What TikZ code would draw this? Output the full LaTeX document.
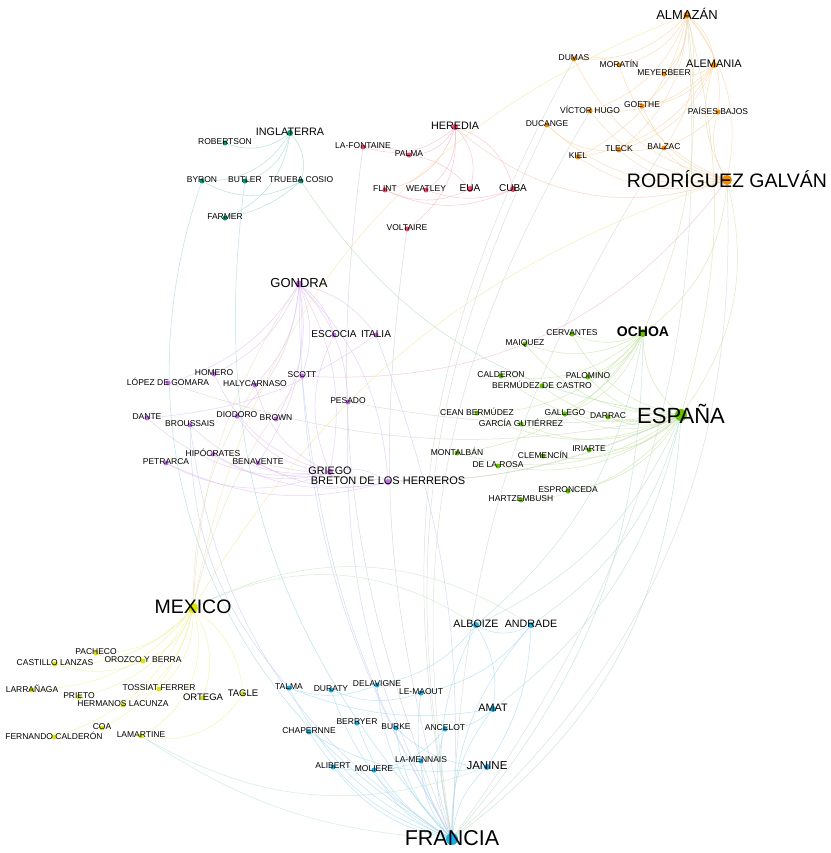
\documentclass[tikz,border=0pt]{standalone}
\usepackage{fontspec}
\setmainfont{Liberation Sans}
\pgfdeclarelayer{bgl}
\pgfdeclarelayer{edges}
\pgfdeclarelayer{dots}
\pgfsetlayers{bgl,edges,dots,main}
\definecolor{cteal}{RGB}{0,150,118}
\definecolor{cpink}{RGB}{236,72,108}
\definecolor{corange}{RGB}{242,140,0}
\definecolor{cpurple}{RGB}{196,112,232}
\definecolor{cgreen}{RGB}{102,192,0}
\definecolor{cyellow}{RGB}{218,228,0}
\definecolor{cblue}{RGB}{22,172,228}
\definecolor{eteal}{RGB}{150,215,205}
\definecolor{epink}{RGB}{248,180,195}
\definecolor{eorange}{RGB}{250,210,160}
\definecolor{epurple}{RGB}{225,190,245}
\definecolor{egreen}{RGB}{195,228,160}
\definecolor{eyellow}{RGB}{238,242,150}
\definecolor{eblue}{RGB}{160,220,242}
\newcommand\gn[7]{%
  \coordinate (#1) at (#2,#3);
  \begin{pgfonlayer}{dots}\fill[#5] (#1) circle[radius=#4];\end{pgfonlayer}
  \node[lbl, font=\fontsize{#6}{#6}\selectfont] (#1-t) at (#1) {#7};}
\newcommand\ee[4]{\draw[ed,draw=#3] (#1) to[bend left=#4] (#2);}
\begin{document}
\begin{tikzpicture}[x=1pt,y=-1pt,
  ed/.style={line width=0.5pt, opacity=0.7},
  lbl/.style={inner sep=0pt, text=black, text depth=0pt, yshift=1pt}]
\useasboundingbox (0,0) rectangle (830,853);
\begin{pgfonlayer}{bgl}\fill[white] (0,0) rectangle (830,853);\end{pgfonlayer}
% ---- teal
\gn{INGLATERRA}{290}{133}{3}{cteal}{10.8}{INGLATERRA}
\gn{ROBERTSON}{225}{143}{2.5}{cteal}{8.5}{ROBERTSON}
\gn{BYRON}{202}{181}{2.5}{cteal}{8.5}{BYRON}
\gn{BUTLER}{245}{181}{2.5}{cteal}{8.5}{BUTLER}
\gn{TRUEBA}{301}{181}{2.5}{cteal}{8.5}{TRUEBA COSIO}
\gn{FARMER}{225}{218}{2.5}{cteal}{8.5}{FARMER}
% ---- pink
\gn{HEREDIA}{455}{127}{3}{cpink}{10.8}{HEREDIA}
\gn{LAFONTAINE}{363}{147}{2.5}{cpink}{8.5}{LA-FONTAINE}
\gn{PALMA}{409}{155}{2.5}{cpink}{8.5}{PALMA}
\gn{FLINT}{385}{190}{2.5}{cpink}{8.5}{FLINT}
\gn{WEATLEY}{426}{190}{2.5}{cpink}{8.5}{WEATLEY}
\gn{EUA}{470}{189}{3}{cpink}{10}{EUA}
\gn{CUBA}{513}{189}{3}{cpink}{10}{CUBA}
\gn{VOLTAIRE}{407}{229}{2.5}{cpink}{8.5}{VOLTAIRE}
% ---- orange
\gn{ALMAZAN}{687}{15}{3.5}{corange}{13}{ALMAZÁN}
\gn{DUMAS}{574}{59}{2.5}{corange}{8.5}{DUMAS}
\gn{MORATIN}{619}{65}{2.5}{corange}{8.5}{MORATÍN}
\gn{MEYERBEER}{664}{74}{2.5}{corange}{8.5}{MEYERBEER}
\gn{ALEMANIA}{714}{65}{3}{corange}{11}{ALEMANIA}
\gn{VHUGO}{590}{111}{2.5}{corange}{8.5}{VÍCTOR HUGO}
\gn{GOETHE}{642}{106}{2.5}{corange}{8.5}{GOETHE}
\gn{PAISES}{718}{112}{2.5}{corange}{8.5}{PAÍSES BAJOS}
\gn{DUCANGE}{547}{125}{2.5}{corange}{8.5}{DUCANGE}
\gn{KIEL}{578}{157}{2.5}{corange}{8.5}{KIEL}
\gn{TLECK}{619}{150}{2.5}{corange}{8.5}{TLECK}
\gn{BALZAC}{664}{148}{2.5}{corange}{8.5}{BALZAC}
\gn{RODRIGUEZ}{727}{180}{5}{corange}{19.5}{RODRÍGUEZ GALVÁN}
% ---- purple
\gn{GONDRA}{299}{284}{3.5}{cpurple}{13}{GONDRA}
\gn{ESCOCIA}{334}{335}{2.5}{cpurple}{10}{ESCOCIA}
\gn{ITALIA}{376}{335}{2.5}{cpurple}{10}{ITALIA}
\gn{SCOTT}{302}{376}{2.5}{cpurple}{8.5}{SCOTT}
\gn{PESADO}{348}{402}{2.5}{cpurple}{8.5}{PESADO}
\gn{BROWN}{276}{419}{2.5}{cpurple}{8.5}{BROWN}
\gn{GRIEGO}{330}{472}{3}{cpurple}{10.8}{GRIEGO}
\gn{BRETON}{388}{482}{3}{cpurple}{11}{BRETON DE LOS HERREROS}
\gn{HOMERO}{214}{374}{2.5}{cpurple}{8.5}{HOMERO}
\gn{LOPEZ}{168}{383}{2.5}{cpurple}{8.5}{LÓPEZ DE GOMARA}
\gn{HALYCARNASO}{255}{385}{2.5}{cpurple}{8.5}{HALYCARNASO}
\gn{DANTE}{147}{418}{2.5}{cpurple}{8.5}{DANTE}
\gn{BROUSSAIS}{190}{425}{2.5}{cpurple}{8.5}{BROUSSAIS}
\gn{DIODORO}{237}{416}{2.5}{cpurple}{8.5}{DIODORO}
\gn{HIPOCRATES}{213}{454}{2.5}{cpurple}{8.5}{HIPÓCRATES}
\gn{PETRARCA}{166}{463}{2.5}{cpurple}{8.5}{PETRARCA}
\gn{BENAVENTE}{258}{463}{2.5}{cpurple}{8.5}{BENAVENTE}
% ---- green
\gn{MAIQUEZ}{525}{344}{2.5}{cgreen}{8.5}{MAIQUEZ}
\gn{CERVANTES}{572}{334}{2.5}{cgreen}{8.5}{CERVANTES}
\gn{OCHOA}{643}{333}{4}{cgreen}{14}{\bfseries OCHOA}
\gn{CALDERON}{501}{376}{2.5}{cgreen}{8.5}{CALDERON}
\gn{BERMUDEZ}{542}{386}{2.5}{cgreen}{8.5}{BERMÚDEZ DE CASTRO}
\gn{PALOMINO}{588}{377}{2.5}{cgreen}{8.5}{PALOMINO}
\gn{CEAN}{477}{413}{2.5}{cgreen}{8.5}{CEAN BERMÚDEZ}
\gn{GARCIA}{521}{424}{2.5}{cgreen}{8.5}{GARCÍA GUTIÉRREZ}
\gn{GALLEGO}{565}{414}{2.5}{cgreen}{8.5}{GALLEGO}
\gn{DARRAC}{608}{417}{2.5}{cgreen}{8.5}{DARRAC}
\gn{ESPANA}{681}{415}{6}{cgreen}{22}{ESPAÑA}
\gn{MONTALBAN}{457}{453}{2.5}{cgreen}{8.5}{MONTALBÁN}
\gn{DELAROSA}{498}{466}{2.5}{cgreen}{8.5}{DE LA ROSA}
\gn{CLEMENCIN}{543}{456}{2.5}{cgreen}{8.5}{CLEMENCÍN}
\gn{IRIARTE}{589}{450}{2.5}{cgreen}{8.5}{IRIARTE}
\gn{ESPRONCEDA}{568}{491}{2.5}{cgreen}{8.5}{ESPRONCEDA}
\gn{HARTZEMBUSH}{521}{500}{2.5}{cgreen}{8.5}{HARTZEMBUSH}
% ---- yellow
\gn{MEXICO}{193}{608}{5}{cyellow}{19.5}{MEXICO}
\gn{PACHECO}{96}{653}{2.5}{cyellow}{8.5}{PACHECO}
\gn{CASTILLO}{55}{664}{2.5}{cyellow}{8.5}{CASTILLO LANZAS}
\gn{OROZCO}{143}{661}{2.5}{cyellow}{8.5}{OROZCO Y BERRA}
\gn{LARRANAGA}{32}{690}{2.5}{cyellow}{8.5}{LARRAÑAGA}
\gn{PRIETO}{79}{697}{2.5}{cyellow}{8.5}{PRIETO}
\gn{TOSSIAT}{159}{689}{2.5}{cyellow}{8.5}{TOSSIAT FERRER}
\gn{LACUNZA}{123}{705}{2.5}{cyellow}{8.5}{HERMANOS LACUNZA}
\gn{ORTEGA}{203}{698}{2.5}{cyellow}{9.5}{ORTEGA}
\gn{TAGLE}{243}{694}{2.5}{cyellow}{9.5}{TAGLE}
\gn{COA}{102}{728}{2.5}{cyellow}{8.5}{COA}
\gn{FCALDERON}{54}{737}{2.5}{cyellow}{8.5}{FERNANDO CALDERÓN}
\gn{LAMARTINE}{141}{736}{2.5}{cyellow}{8.5}{LAMARTINE}
% ---- blue
\gn{ALBOIZE}{476}{625}{3}{cblue}{10.7}{ALBOIZE}
\gn{ANDRADE}{531}{625}{3}{cblue}{10.7}{ANDRADE}
\gn{TALMA}{289}{688}{2.5}{cblue}{8.5}{TALMA}
\gn{DURATY}{331}{690}{2.5}{cblue}{8.5}{DURATY}
\gn{DELAVIGNE}{377}{685}{2.5}{cblue}{8.5}{DELAVIGNE}
\gn{LEMAOUT}{421}{693}{2.5}{cblue}{8.5}{LE-MAOUT}
\gn{AMAT}{493}{709}{3}{cblue}{10.8}{AMAT}
\gn{BERRYER}{357}{723}{2.5}{cblue}{8.5}{BERRYER}
\gn{BURKE}{396}{728}{2.5}{cblue}{8.5}{BURKE}
\gn{ANCELOT}{445}{729}{2.5}{cblue}{8.5}{ANCELOT}
\gn{CHAPERNNE}{309}{732}{2.5}{cblue}{8.5}{CHAPERNNE}
\gn{ALIBERT}{333}{767}{2.5}{cblue}{8.5}{ALIBERT}
\gn{MOLIERE}{374}{770}{2.5}{cblue}{8.5}{MOLIERE}
\gn{LAMENNAIS}{421}{761}{2.5}{cblue}{8.5}{LA-MENNAIS}
\gn{JANINE}{487}{767}{3}{cblue}{11.5}{JANINE}
\gn{FRANCIA}{452}{839}{6}{cblue}{21.5}{FRANCIA}
% ================= edges
\begin{pgfonlayer}{edges}
% teal
\foreach \b in {ROBERTSON,BYRON,BUTLER,TRUEBA,FARMER} {\ee{INGLATERRA}{\b}{eteal}{30}}
\ee{TRUEBA}{BYRON}{eteal}{30}
\ee{TRUEBA}{FARMER}{eteal}{15}
% pink
\foreach \b in {LAFONTAINE,PALMA,FLINT,WEATLEY,EUA,CUBA,VOLTAIRE} {\ee{HEREDIA}{\b}{epink}{30}}
\ee{LAFONTAINE}{PALMA}{epink}{15}
\ee{PALMA}{EUA}{epink}{20}
\ee{EUA}{FLINT}{epink}{25}
\ee{CUBA}{FLINT}{epink}{25}
\ee{CUBA}{WEATLEY}{epink}{20}
% orange
\foreach \b in {DUMAS,MORATIN,MEYERBEER,ALEMANIA,VHUGO,GOETHE,TLECK,BALZAC,PAISES,KIEL,RODRIGUEZ} {\ee{ALMAZAN}{\b}{eorange}{25}}
\foreach \b in {DUMAS,MORATIN,VHUGO,GOETHE,DUCANGE,KIEL,TLECK,BALZAC,PAISES,ALEMANIA} {\ee{RODRIGUEZ}{\b}{eorange}{25}}
\foreach \b in {GOETHE,MEYERBEER,TLECK,KIEL,VHUGO} {\ee{ALEMANIA}{\b}{eorange}{25}}
\ee{DUMAS}{MORATIN}{eorange}{20}
\ee{TLECK}{DUCANGE}{eorange}{25}
\ee{PAISES}{TLECK}{eorange}{25}
% green
\foreach \b in {MAIQUEZ,CERVANTES,CALDERON,BERMUDEZ,PALOMINO,CEAN,GARCIA,GALLEGO,DARRAC,MONTALBAN,DELAROSA,CLEMENCIN,IRIARTE,ESPRONCEDA,HARTZEMBUSH,OCHOA} {\ee{ESPANA}{\b}{egreen}{25}}
\foreach \b in {MAIQUEZ,CERVANTES,CALDERON,BERMUDEZ,PALOMINO,GALLEGO,GARCIA,CEAN,MONTALBAN} {\ee{OCHOA}{\b}{egreen}{25}}
% purple
\foreach \b in {ESCOCIA,ITALIA,SCOTT,PESADO,BROWN,HALYCARNASO,HOMERO,DIODORO,BENAVENTE,GRIEGO,BRETON,LOPEZ} {\ee{GONDRA}{\b}{epurple}{20}}
\foreach \b in {HOMERO,DIODORO,HIPOCRATES,HALYCARNASO,PETRARCA,DANTE,BROUSSAIS,BENAVENTE,BRETON,ESCOCIA} {\ee{GRIEGO}{\b}{epurple}{25}}
\foreach \b in {PETRARCA,HIPOCRATES,BENAVENTE} {\ee{BRETON}{\b}{epurple}{20}}
\ee{ITALIA}{DANTE}{epurple}{15}
% yellow
\foreach \b in {PACHECO,CASTILLO,OROZCO,LARRANAGA,PRIETO,TOSSIAT,LACUNZA,ORTEGA,TAGLE,COA,FCALDERON} {\ee{MEXICO}{\b}{eyellow}{25}}
\ee{MEXICO}{LAMARTINE}{eyellow}{40}
\ee{OROZCO}{PACHECO}{eyellow}{20}
\ee{OROZCO}{CASTILLO}{eyellow}{20}
\ee{TAGLE}{LAMARTINE}{eyellow}{35}
% blue
\foreach \b in {TALMA,DURATY,DELAVIGNE,LEMAOUT,AMAT,BERRYER,BURKE,ANCELOT,CHAPERNNE,ALIBERT,MOLIERE,LAMENNAIS,JANINE,ALBOIZE,ANDRADE} {\ee{FRANCIA}{\b}{eblue}{20}}
\ee{ANDRADE}{ALBOIZE}{eblue}{30}
\ee{ALBOIZE}{DELAVIGNE}{eblue}{20}
\ee{ALBOIZE}{AMAT}{eblue}{20}
\ee{ANDRADE}{LEMAOUT}{eblue}{20}
\ee{ANDRADE}{JANINE}{eblue}{15}
\ee{AMAT}{ANCELOT}{eblue}{20}
\ee{AMAT}{TALMA}{eblue}{15}
\ee{JANINE}{CHAPERNNE}{eblue}{20}
\ee{JANINE}{BURKE}{eblue}{20}
\ee{LAMENNAIS}{ALIBERT}{eblue}{15}
\ee{ANCELOT}{MOLIERE}{eblue}{20}
\ee{DELAVIGNE}{TALMA}{eblue}{20}
\ee{LEMAOUT}{DURATY}{eblue}{20}
% cross-group
\ee{FRANCIA}{BYRON}{eblue!50!eteal}{40}
\ee{FRANCIA}{BUTLER}{eblue!50!eteal}{25}
\ee{ESPANA}{TRUEBA}{egreen!50!eteal}{25}
\ee{RODRIGUEZ}{HEREDIA}{epink!50!eorange}{30}
\ee{RODRIGUEZ}{SCOTT}{epink!60!epurple}{28}
\ee{MEXICO}{ALMAZAN}{eyellow!60!eorange}{29}
\ee{MEXICO}{RODRIGUEZ}{eyellow!60!eorange}{20}
\ee{RODRIGUEZ}{ESPANA}{eorange!50!egreen}{25}
\ee{RODRIGUEZ}{OCHOA}{eorange!50!egreen}{25}
\ee{ALMAZAN}{ESPANA}{eorange!50!egreen}{15}
\ee{ALMAZAN}{OCHOA}{eorange!50!egreen}{15}
\ee{RODRIGUEZ}{FRANCIA}{eorange!50!eblue}{25}
\ee{ALMAZAN}{FRANCIA}{eorange!50!eblue}{20}
\ee{FRANCIA}{DUMAS}{eorange!50!eblue}{20}
\ee{FRANCIA}{VHUGO}{eorange!50!eblue}{20}
\ee{FRANCIA}{DUCANGE}{eorange!50!eblue}{18}
\ee{FRANCIA}{BALZAC}{eorange!50!eblue}{15}
\ee{ESPANA}{PESADO}{egreen!60!epurple}{8}
\ee{ESPANA}{BRETON}{egreen!60!epurple}{12}
\ee{ESPANA}{BENAVENTE}{egreen!60!epurple}{18}
\ee{ESPANA}{LOPEZ}{egreen!60!epurple}{15}
\ee{ESPANA}{FRANCIA}{egreen!50!eblue}{25}
\ee{ESPANA}{ALBOIZE}{egreen!50!eblue}{20}
\ee{ESPANA}{ANDRADE}{egreen!50!eblue}{20}
\ee{ESPANA}{AMAT}{egreen!50!eblue}{20}
\ee{OCHOA}{FRANCIA}{egreen!50!eblue}{20}
\ee{OCHOA}{ALBOIZE}{egreen!50!eblue}{20}
\ee{FRANCIA}{GONDRA}{eblue!50!epurple}{15}
\ee{FRANCIA}{SCOTT}{eblue!50!epurple}{12}
\ee{ITALIA}{FRANCIA}{eblue!50!epurple}{12}
\ee{FRANCIA}{BROUSSAIS}{eblue!50!epurple}{25}
\ee{FRANCIA}{PESADO}{eblue!50!epurple}{15}
\ee{TALMA}{BROUSSAIS}{eblue!50!epurple}{20}
\ee{FRANCIA}{LAFONTAINE}{eblue!50!epink}{15}
\ee{FRANCIA}{VOLTAIRE}{eblue!50!epink}{12}
\ee{MEXICO}{GONDRA}{eyellow!60!epurple}{15}
\ee{MEXICO}{HALYCARNASO}{eyellow!60!epurple}{15}
\ee{MEXICO}{SCOTT}{eyellow!60!epurple}{12}
\ee{MEXICO}{ALBOIZE}{eyellow!50!eblue}{30}
\ee{MEXICO}{ANDRADE}{eyellow!50!eblue}{30}
\ee{FRANCIA}{LAMARTINE}{eyellow!40!eblue}{15}
\ee{JANINE}{LAMARTINE}{eyellow!40!eblue}{25}
\end{pgfonlayer}
\end{tikzpicture}
\end{document}
